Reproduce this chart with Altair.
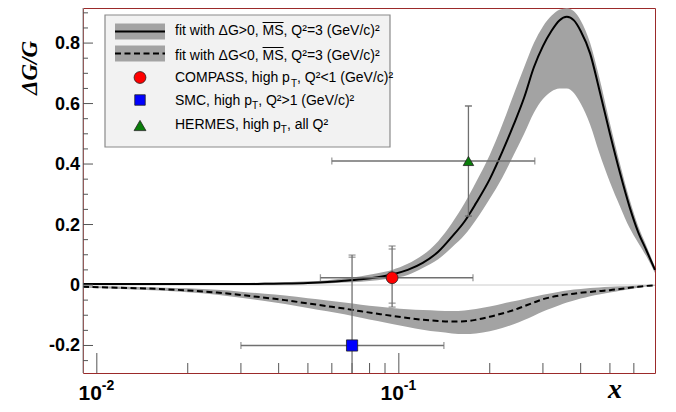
import altair as alt
import pandas as pd

# ---------------- data ----------------
fit_x = [0.009, 0.012, 0.016, 0.02, 0.025, 0.03, 0.036, 0.042, 0.05, 0.058, 0.066, 0.075,
         0.085, 0.095, 0.107, 0.12, 0.135, 0.15, 0.165, 0.18, 0.2, 0.22, 0.24, 0.26, 0.28,
         0.3, 0.32, 0.34, 0.36, 0.38, 0.4, 0.43, 0.46, 0.5, 0.54, 0.58, 0.62, 0.66, 0.705]
pos_mid = [0.003, 0.003, 0.003, 0.003, 0.003, 0.003, 0.004, 0.005, 0.007, 0.010, 0.014, 0.019,
           0.026, 0.035, 0.050, 0.073, 0.110, 0.160, 0.210, 0.270, 0.350, 0.440, 0.530, 0.620, 0.720,
           0.790, 0.840, 0.875, 0.887, 0.875, 0.840, 0.765, 0.650, 0.500, 0.370, 0.260, 0.175, 0.115, 0.050]
pos_hi = [0.006, 0.006, 0.006, 0.006, 0.006, 0.006, 0.008, 0.009, 0.012, 0.016, 0.022, 0.029,
          0.039, 0.050, 0.070, 0.099, 0.145, 0.205, 0.270, 0.340, 0.430, 0.530, 0.630, 0.720, 0.800,
          0.855, 0.890, 0.910, 0.915, 0.905, 0.875, 0.800, 0.690, 0.535, 0.400, 0.285, 0.195, 0.130, 0.060]
pos_lo = [0.000, 0.000, 0.000, 0.000, 0.000, 0.000, 0.001, 0.002, 0.003, 0.005, 0.008, 0.011,
          0.016, 0.022, 0.033, 0.056, 0.085, 0.125, 0.165, 0.215, 0.285, 0.355, 0.430, 0.500, 0.570,
          0.615, 0.640, 0.650, 0.650, 0.635, 0.600, 0.530, 0.440, 0.340, 0.260, 0.190, 0.140, 0.095, 0.040]
neg_mid = [-0.006, -0.009, -0.013, -0.018, -0.025, -0.033, -0.042, -0.050, -0.061, -0.070, -0.078, -0.087,
           -0.095, -0.102, -0.109, -0.115, -0.119, -0.121, -0.120, -0.115, -0.105, -0.094, -0.083, -0.070, -0.058,
           -0.047, -0.040, -0.035, -0.031, -0.029, -0.026, -0.023, -0.020, -0.017, -0.013, -0.009, -0.006, -0.003, -0.001]
neg_hi = [-0.003, -0.005, -0.008, -0.011, -0.016, -0.022, -0.029, -0.035, -0.044, -0.051, -0.058, -0.065,
          -0.071, -0.076, -0.080, -0.083, -0.085, -0.086, -0.084, -0.079, -0.071, -0.062, -0.054, -0.046, -0.039,
          -0.032, -0.027, -0.022, -0.018, -0.015, -0.013, -0.010, -0.008, -0.006, -0.004, -0.003, -0.002, -0.001, 0.000]
neg_lo = [-0.009, -0.013, -0.018, -0.024, -0.032, -0.042, -0.053, -0.063, -0.076, -0.087, -0.097, -0.108,
          -0.119, -0.129, -0.139, -0.148, -0.155, -0.160, -0.162, -0.160, -0.153, -0.142, -0.130, -0.116, -0.102,
          -0.088, -0.077, -0.067, -0.058, -0.051, -0.045, -0.037, -0.031, -0.025, -0.019, -0.014, -0.009, -0.005, -0.002]

exp_names = ["COMPASS", "SMC", "HERMES"]
exp_x = [0.095, 0.070, 0.170]
exp_y = [0.024, -0.200, 0.410]
exp_xlo = [0.055, 0.030, 0.060]
exp_xhi = [0.176, 0.141, 0.282]
exp_stat_lo = [-0.060, -0.480, 0.228]
exp_stat_hi = [0.119, 0.092, 0.592]
exp_tot_lo = [-0.073, -0.500, 0.228]
exp_tot_hi = [0.129, 0.099, 0.592]
exp_colors = ["#ff0000", "#0000ff", "#0a7d0a"]
exp_shapes = ["circle", "square", "triangle-up"]

y_major = [-0.2, 0.0, 0.2, 0.4, 0.6, 0.8]
y_major_labels = ["-0.2", "0", "0.2", "0.4", "0.6", "0.8"]
y_minor = [-0.25, -0.15, -0.1, -0.05, 0.05, 0.1, 0.15, 0.25, 0.3, 0.35, 0.45, 0.5, 0.55, 0.65, 0.7, 0.75, 0.85, 0.9]
x_major = [0.01, 0.1]
x_major_exp = ["-2", "-1"]
x_minor = [0.02, 0.03, 0.04, 0.05, 0.06, 0.07, 0.08, 0.09, 0.2, 0.3, 0.4, 0.5, 0.6]

# ---------------- chart ----------------
W, H = 572, 365
xs = alt.Scale(type="log", domain=[0.009, 0.705])
ys = alt.Scale(domain=[-0.291, 0.916])
ECOL = "#707070"
FONT = "Liberation Sans"

fits = pd.DataFrame({"x": fit_x, "pm": pos_mid, "plo": pos_lo, "phi": pos_hi,
                     "nm": neg_mid, "nlo": neg_lo, "nhi": neg_hi})
X = alt.X("x:Q", scale=xs, axis=None)

base = alt.Chart(fits)
zero = alt.Chart(pd.DataFrame({"y": [0.0]})).mark_rule(color="#cccccc", strokeWidth=1).encode(
    y=alt.Y("y:Q", scale=ys, axis=None))
pos_band = base.mark_area(color="#a3a3a3", interpolate="monotone").encode(
    x=X, y=alt.Y("plo:Q", scale=ys, axis=None), y2="phi:Q")
neg_band = base.mark_area(color="#a3a3a3", interpolate="monotone").encode(
    x=X, y=alt.Y("nlo:Q", scale=ys, axis=None), y2="nhi:Q")
pos_line = base.mark_line(color="black", strokeWidth=2, interpolate="monotone").encode(
    x=X, y=alt.Y("pm:Q", scale=ys, axis=None))
neg_line = base.mark_line(color="black", strokeWidth=2, strokeDash=[6, 3.5], interpolate="monotone").encode(
    x=X, y=alt.Y("nm:Q", scale=ys, axis=None))

# left axis line and inward ticks (ROOT style)
yline = alt.Chart(pd.DataFrame({"a": [0]})).mark_rule(color="#8c8c8c", strokeWidth=1).encode(
    x=alt.value(0), y=alt.value(0), y2=alt.value(H))
ytick_major = alt.Chart(pd.DataFrame({"v": y_major})).mark_rule(color="#555555").encode(
    y=alt.Y("v:Q", scale=ys, axis=None), x=alt.value(0), x2=alt.value(10))
ytick_minor = alt.Chart(pd.DataFrame({"v": y_minor})).mark_rule(color="#555555").encode(
    y=alt.Y("v:Q", scale=ys, axis=None), x=alt.value(0), x2=alt.value(5))
ylab = alt.Chart(pd.DataFrame({"v": y_major, "t": y_major_labels})).mark_text(
    align="right", baseline="middle", font=FONT, fontSize=18, fontWeight="bold", color="black", dy=1).encode(
    y=alt.Y("v:Q", scale=ys, axis=None), x=alt.value(-3), text="t:N")
xtick_major = alt.Chart(pd.DataFrame({"v": x_major})).mark_rule(color="#555555").encode(
    x=alt.X("v:Q", scale=xs, axis=None), y=alt.value(H), y2=alt.value(H - 20))
xtick_minor = alt.Chart(pd.DataFrame({"v": x_minor})).mark_rule(color="#555555").encode(
    x=alt.X("v:Q", scale=xs, axis=None), y=alt.value(H), y2=alt.value(H - 10))

xlab = pd.DataFrame({"v": x_major, "base": ["10", "10"], "exp": x_major_exp})
xlab_base = alt.Chart(xlab).mark_text(align="right", baseline="alphabetic", dx=5, font=FONT,
                                      fontSize=21, fontWeight="bold", color="black").encode(
    x=alt.X("v:Q", scale=xs, axis=None), y=alt.value(H + 27), text="base:N")
xlab_exp = alt.Chart(xlab).mark_text(align="left", baseline="alphabetic", dx=5, font=FONT,
                                     fontSize=14, fontWeight="bold", color="black").encode(
    x=alt.X("v:Q", scale=xs, axis=None), y=alt.value(H + 17), text="exp:N")

ytitle = alt.Chart(pd.DataFrame({"t": ["ΔG/G"]})).mark_text(
    angle=270, align="center", baseline="alphabetic", font="Liberation Serif", fontStyle="italic",
    fontWeight="bold", fontSize=23, color="black").encode(x=alt.value(-46), y=alt.value(60), text="t:N")
xtitle = alt.Chart(pd.DataFrame({"t": ["x"]})).mark_text(
    align="center", baseline="alphabetic", font="Liberation Serif", fontStyle="italic",
    fontWeight="bold", fontSize=28, color="black").encode(x=alt.value(532), y=alt.value(H + 25), text="t:N")

# experimental points
exp = pd.DataFrame({"name": exp_names, "x": exp_x, "y": exp_y, "xlo": exp_xlo, "xhi": exp_xhi,
                    "slo": exp_stat_lo, "shi": exp_stat_hi, "tlo": exp_tot_lo, "thi": exp_tot_hi})
ec = alt.Chart(exp)
hbar = ec.mark_rule(color=ECOL, strokeWidth=1.3).encode(
    x=alt.X("xlo:Q", scale=xs, axis=None), x2="xhi:Q", y=alt.Y("y:Q", scale=ys, axis=None))
vbar = ec.mark_rule(color=ECOL, strokeWidth=1.3, clip=True).encode(
    x=alt.X("x:Q", scale=xs, axis=None), y=alt.Y("tlo:Q", scale=ys, axis=None), y2="thi:Q")
capsv_rows = []
for i in range(len(exp_names)):
    for v in (exp_stat_lo[i], exp_stat_hi[i], exp_tot_lo[i], exp_tot_hi[i]):
        capsv_rows.append({"x": exp_x[i], "y": v})
capsh_rows = []
for i in range(len(exp_names)):
    for v in (exp_xlo[i], exp_xhi[i]):
        capsh_rows.append({"x": v, "y": exp_y[i]})
capsv = alt.Chart(pd.DataFrame(capsv_rows)).mark_tick(orient="horizontal", size=7, thickness=1.3,
                                                     color=ECOL, clip=True).encode(
    x=alt.X("x:Q", scale=xs, axis=None), y=alt.Y("y:Q", scale=ys, axis=None))
capsh = alt.Chart(pd.DataFrame(capsh_rows)).mark_tick(orient="vertical", size=7, thickness=1.3,
                                                     color=ECOL).encode(
    x=alt.X("x:Q", scale=xs, axis=None), y=alt.Y("y:Q", scale=ys, axis=None))
markers = ec.mark_point(filled=True, opacity=1, stroke="#222222", strokeWidth=0.8).encode(
    x=alt.X("x:Q", scale=xs, axis=None), y=alt.Y("y:Q", scale=ys, axis=None),
    fill=alt.Fill("name:N", scale=alt.Scale(domain=exp_names, range=exp_colors), legend=None),
    shape=alt.Shape("name:N", scale=alt.Scale(domain=exp_names, range=exp_shapes), legend=None),
    size=alt.Size("name:N", scale=alt.Scale(domain=exp_names, range=[140, 110, 140]), legend=None))

# ---------------- legend (ROOT TLegend style) ----------------
AW = {" ": 278, ",": 278, "(": 333, ")": 333, "/": 278, "<": 584, ">": 584, "=": 584, "²": 333,
      "A": 667, "C": 722, "E": 667, "G": 778, "H": 722, "M": 833, "O": 778, "P": 667, "Q": 778,
      "R": 722, "S": 667, "T": 611, "V": 667, "a": 556, "c": 500, "e": 556, "f": 278, "g": 556,
      "h": 556, "i": 222, "l": 222, "p": 556, "t": 278, "w": 722, "Δ": 668}


def tw(s, size):
    return sum(AW.get(ch, 556) for ch in s) * size / 1000.0


def one(x, y):
    return dict(x=alt.value(x), y=alt.value(y))


LX, TX = 57, 92
dummy = alt.Chart(pd.DataFrame({"a": [0]}))
legend_layers = [
    dummy.mark_rect(fill="#f2f2f2", stroke="#8a8a8a", strokeWidth=1.2).encode(
        x=alt.value(22), x2=alt.value(307), y=alt.value(7), y2=alt.value(139)),
    dummy.mark_rect(fill="#a3a3a3").encode(x=alt.value(32), x2=alt.value(82), y=alt.value(15.5), y2=alt.value(31.5)),
    dummy.mark_rule(color="black", strokeWidth=2).encode(x=alt.value(32), x2=alt.value(82), y=alt.value(23.5)),
    dummy.mark_rect(fill="#a3a3a3").encode(x=alt.value(32), x2=alt.value(82), y=alt.value(37.5), y2=alt.value(53.5)),
    dummy.mark_rule(color="black", strokeWidth=2, strokeDash=[6, 3.5]).encode(
        x=alt.value(32), x2=alt.value(82), y=alt.value(45.5)),
    dummy.mark_point(shape="circle", filled=True, opacity=1, fill=exp_colors[0], stroke="#222222",
                     strokeWidth=0.8, size=140).encode(**one(LX, 69.5)),
    dummy.mark_point(shape="square", filled=True, opacity=1, fill=exp_colors[1], stroke="#222222",
                     strokeWidth=0.8, size=110).encode(**one(LX, 92)),
    dummy.mark_point(shape="triangle-up", filled=True, opacity=1, fill=exp_colors[2], stroke="#222222",
                     strokeWidth=0.8, size=140).encode(**one(LX, 117.5)),
]


def seg(text, x, y, size=14):
    return dummy.mark_text(text=text, align="left", baseline="alphabetic", font=FONT,
                           fontSize=size, color="black").encode(**one(x, y))


fit_lines = [("fit with ΔG>0, ", 27), ("fit with ΔG<0, ", 52)]
for pre, by in fit_lines:
    w0 = tw(pre, 14)
    legend_layers.append(seg(pre + "MS, Q²=3 (GeV/c)²", TX, by))
    legend_layers.append(dummy.mark_rule(color="black", strokeWidth=1).encode(
        x=alt.value(TX + w0), x2=alt.value(TX + w0 + tw("MS", 14)), y=alt.value(by - 12.5)))

pt_lines = [("COMPASS, high p", ", Q²<1 (GeV/c)²", 74), ("SMC, high p", ", Q²>1 (GeV/c)²", 96.5),
            ("HERMES, high p", ", all Q²", 120.5)]
for pre, post, by in pt_lines:
    w0 = tw(pre, 14)
    legend_layers.append(seg(pre, TX, by))
    legend_layers.append(seg("T", TX + w0, by + 4.5, 10))
    legend_layers.append(seg(post, TX + w0 + tw("T", 10), by))

chart = alt.layer(
    zero, pos_band, neg_band, pos_line, neg_line,
    yline, ytick_major, ytick_minor, xtick_major, xtick_minor, ylab,
    hbar, vbar, capsv, capsh, markers,
    *legend_layers,
    xlab_base, xlab_exp, ytitle, xtitle,
).properties(
    width=W, height=H,
    autosize=alt.AutoSizeParams(type="none"),
    padding={"left": 75, "top": 0, "right": 10, "bottom": 33},
).configure_view(stroke="#9b2a2a", strokeWidth=1)

chart.save("out.html", embed_options={"renderer": "svg", "actions": False})
